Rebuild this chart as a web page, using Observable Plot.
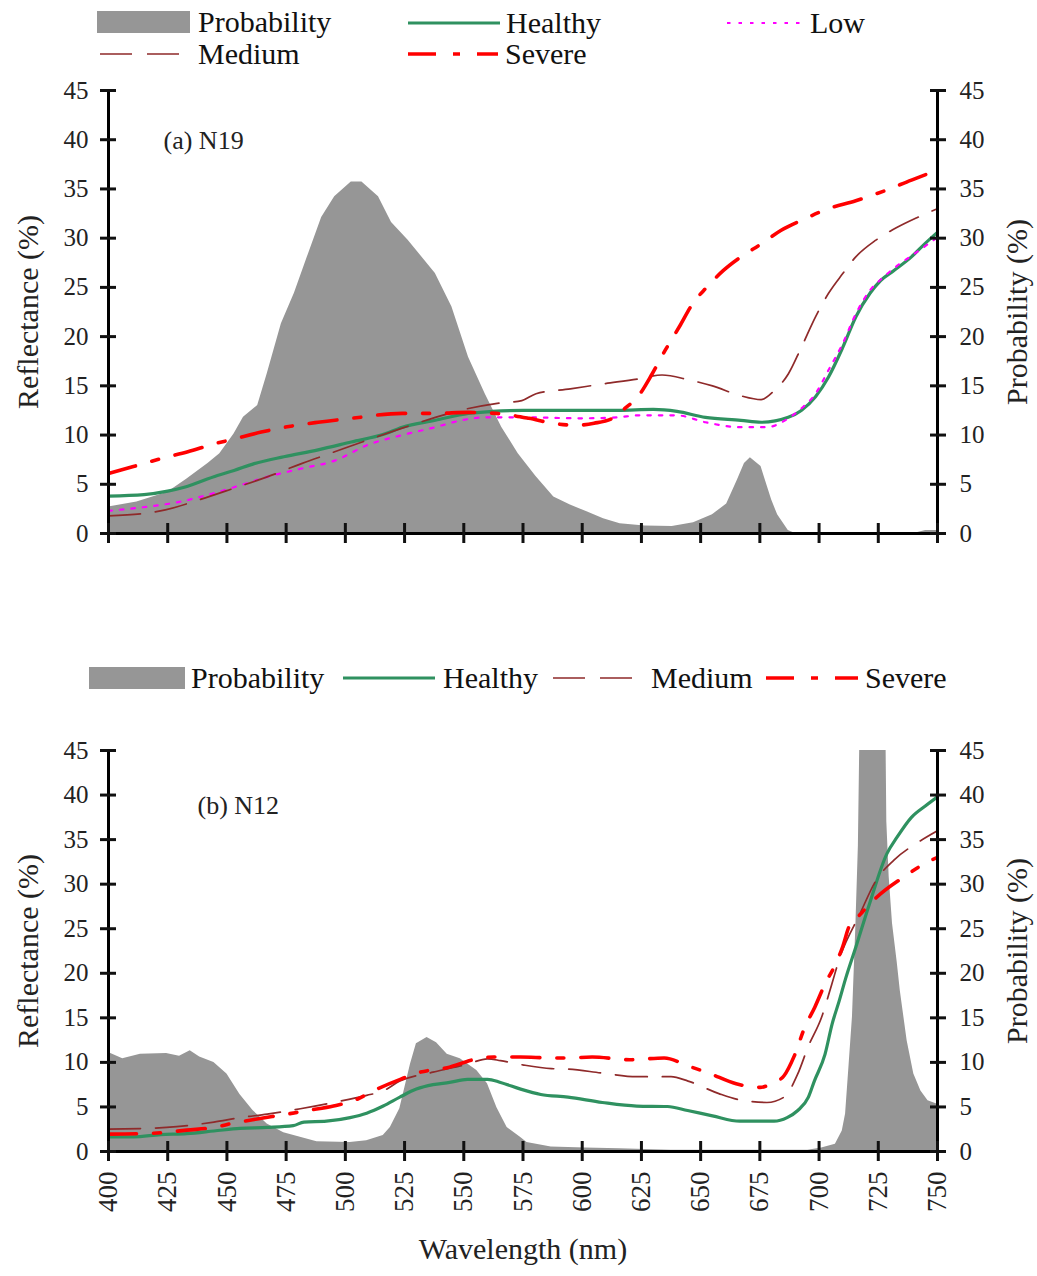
<!DOCTYPE html>
<html><head><meta charset="utf-8">
<script src="https://cdn.jsdelivr.net/npm/d3@7"></script>
<script src="https://cdn.jsdelivr.net/npm/@observablehq/plot@0.6"></script>
<style>
body{margin:0;background:#fff;font-family:"Liberation Serif",serif;}
#root{position:relative;width:1037px;height:1276px;overflow:hidden;background:#fff;}
.lt{position:absolute;font-size:30px;line-height:30px;color:#111;white-space:nowrap;}
.pane{position:absolute;left:0;}
</style></head><body><div id="root"></div>
<script>
// ---------- Series names ----------
const seriesNames = ["Probability", "Healthy", "Low", "Medium", "Severe"];
const panelLabels = ["(a) N19", "(b) N12"];
const yTicks = [0, 5, 10, 15, 20, 25, 30, 35, 40, 45];
const xTicks = [400, 425, 450, 475, 500, 525, 550, 575, 600, 625, 650, 675, 700, 725, 750];

// ---------- Panel (a) N19 ----------
const wlProbA = [400, 412, 425, 433, 442, 447, 453, 457, 463, 467, 473, 478.5, 484, 490, 495.5, 502.5, 507, 514, 519.5, 526.5, 538, 545, 552, 559, 566, 573, 580.5, 588, 595, 602, 609, 616, 626.5, 638, 647, 655, 661, 665.5, 668.5, 671, 675.5, 680, 682.5, 687, 690, 740, 745, 750];
const probA = [2.7, 3.2, 4.2, 5.5, 7.1, 8.1, 10.1, 11.8, 13.0, 16.2, 21.3, 24.4, 28.1, 32.1, 34.2, 35.7, 35.7, 34.2, 31.6, 29.8, 26.4, 23.0, 17.9, 14.2, 10.8, 8.1, 5.8, 3.7, 2.9, 2.2, 1.5, 1.0, 0.75, 0.7, 1.1, 1.9, 3.0, 5.4, 7.1, 7.7, 6.8, 3.4, 1.9, 0.3, 0, 0, 0.3, 0.3];

const wlHealthyA = [400, 415, 425, 432, 446, 453, 461.5, 474, 488.5, 502.5, 516.5, 524, 538, 552, 562, 575, 600, 615, 630, 640, 652, 667, 675.5, 687, 692.5, 698.5, 704, 710, 715.5, 721.5, 726, 731.5, 739, 744.5, 750];
const healthyA = [3.8, 3.95, 4.3, 4.7, 5.9, 6.4, 7.1, 7.8, 8.5, 9.3, 10.1, 10.8, 11.5, 12.2, 12.4, 12.5, 12.5, 12.5, 12.6, 12.4, 11.8, 11.5, 11.3, 11.8, 12.5, 13.9, 15.9, 18.9, 22.0, 24.4, 25.7, 26.7, 28.1, 29.4, 30.6];

const wlLowA = [400, 422, 427.5, 444.5, 453, 467, 481.5, 495.5, 509.5, 524, 538, 549, 559, 575, 600, 615, 624, 640, 652, 666.5, 678, 687, 692.5, 698.5, 704, 710, 715.5, 721.5, 727, 733, 739, 750];
const lowA = [2.3, 2.9, 3.1, 4.1, 4.7, 5.75, 6.6, 7.4, 9.0, 10.0, 10.8, 11.5, 11.8, 11.8, 11.7, 11.8, 12.0, 12.0, 11.3, 10.8, 10.8, 11.7, 12.7, 14.2, 16.6, 19.3, 22.3, 24.7, 26.0, 27.2, 28.2, 30.1];

const wlMediumA = [400, 414, 424, 438, 453, 467, 481.5, 495.5, 509.5, 524, 538, 552, 563.5, 574.5, 580.5, 595, 609, 623.5, 633.7, 645, 655, 666.8, 675.5, 681, 687, 692.5, 698.5, 704, 710, 715.5, 724, 733, 741.5, 750];
const mediumA = [1.8, 2.0, 2.4, 3.4, 4.6, 5.75, 7.1, 8.3, 9.5, 10.7, 11.8, 12.7, 13.2, 13.5, 14.2, 14.7, 15.2, 15.7, 16.1, 15.6, 15.0, 14.0, 13.6, 14.5, 16.2, 18.9, 22.0, 24.4, 26.4, 28.1, 29.8, 31.1, 32.1, 33.0];

const wlSevereA = [400, 410.5, 422, 433.5, 444.5, 453, 464.5, 474.5, 488.5, 502.5, 524, 538, 552, 563.5, 577.5, 587.5, 597.5, 605, 613.5, 618, 623.5, 629.5, 635, 641, 646.5, 652.5, 659.5, 667, 675.5, 684, 692.5, 704, 715.5, 727.5, 739, 750];
const severeA = [6.1, 6.8, 7.6, 8.3, 9.1, 9.6, 10.3, 10.8, 11.3, 11.7, 12.2, 12.2, 12.3, 12.2, 11.7, 11.2, 11.0, 11.2, 11.8, 12.7, 13.9, 16.2, 18.6, 21.0, 23.3, 25.0, 26.7, 28.1, 29.4, 30.8, 31.8, 33.0, 33.8, 34.8, 35.9, 36.9];

// ---------- Panel (b) N12 ----------
const wlProbB = [400, 406, 413.5, 424.5, 430, 434.5, 438.5, 444.5, 450, 455.5, 461, 467, 474, 481, 488, 502, 509, 516, 519, 523, 527.5, 530, 534.5, 538.5, 543, 548.5, 555.5, 560, 564, 568.3, 573.9, 576.7, 586.9, 601.3, 615.8, 637.5, 695.3, 701.1, 706.9, 709.8, 711.2, 712.7, 714.1, 715.5, 716.6, 717.3, 728.2, 728.6, 729.6, 731, 733, 734.3, 737.2, 740, 743, 746, 750];
const probB = [11.1, 10.4, 10.9, 11.0, 10.7, 11.3, 10.6, 10.0, 8.7, 6.4, 4.6, 3.1, 2.1, 1.6, 1.1, 1.0, 1.2, 1.8, 2.7, 4.8, 9.8, 12.1, 12.8, 12.2, 10.9, 10.4, 9.1, 7.6, 4.9, 2.7, 1.6, 1.0, 0.5, 0.4, 0.3, 0.15, 0.15, 0.4, 0.8, 2.3, 4.2, 9.8, 15.1, 25.0, 34.3, 48, 48, 37.0, 30.8, 25.6, 21.2, 18.0, 12.4, 8.7, 6.8, 5.7, 5.3];

const wlHealthyB = [400, 410.5, 422, 433, 444.5, 455.5, 467, 478, 482.5, 492, 502, 509, 516, 523, 530, 537, 544, 551.5, 560, 565.5, 574, 582.5, 594, 608.5, 623, 636, 644.5, 655, 666.5, 681, 686.5, 691, 695.5, 698, 702.5, 705.5, 708.5, 711.2, 715.6, 721.3, 728.6, 733, 739, 745, 750];
const healthyB = [1.65, 1.65, 1.9, 2.0, 2.3, 2.6, 2.7, 2.9, 3.3, 3.4, 3.8, 4.3, 5.1, 6.1, 7.0, 7.5, 7.75, 8.1, 8.1, 7.75, 7.0, 6.4, 6.1, 5.5, 5.1, 5.05, 4.6, 4.0, 3.4, 3.4, 3.8, 4.6, 6.1, 7.9, 10.9, 14.3, 16.9, 19.4, 23.0, 27.8, 33.4, 35.3, 37.5, 38.8, 39.8];

const wlMediumB = [400, 424.5, 444.5, 455.5, 467, 481, 495, 509, 516, 523, 537, 551.5, 560, 565.5, 575.3, 587, 594, 608.5, 623, 637.5, 644.7, 657.7, 666.4, 678, 685.2, 691, 695.3, 701.1, 705.4, 708.3, 717.3, 724, 731.6, 741.8, 750];
const mediumB = [2.5, 2.7, 3.3, 3.8, 4.2, 4.8, 5.5, 6.3, 6.8, 7.9, 8.9, 9.8, 10.4, 10.2, 9.7, 9.3, 9.25, 8.8, 8.4, 8.4, 7.9, 6.5, 5.8, 5.5, 6.1, 8.7, 11.7, 15.1, 18.8, 21.4, 26.7, 30.4, 32.7, 34.7, 36.0];

const wlSevereB = [400, 413.5, 422, 433, 444.5, 453, 464, 475.5, 484, 495, 503.5, 513.3, 523.2, 531.6, 543, 554, 562.6, 573.9, 587, 594, 604.2, 620, 634.6, 644.7, 653.4, 665, 675.1, 680.8, 685.2, 689.5, 693.9, 698.2, 702.5, 706.9, 710, 712.6, 717, 724.2, 735.7, 745.9, 750];
const severeB = [1.95, 2.0, 2.1, 2.4, 2.7, 3.2, 3.7, 4.2, 4.6, 5.1, 5.7, 7.0, 8.1, 8.9, 9.4, 10.3, 10.6, 10.6, 10.5, 10.5, 10.6, 10.3, 10.5, 9.6, 8.8, 7.6, 7.2, 7.75, 8.5, 10.7, 13.9, 16.2, 18.8, 21.0, 23.0, 25.2, 26.5, 28.5, 30.8, 32.5, 33.0];

// ---------- Styles ----------
const styles = {
  Probability: {fill: "#969696"},
  Healthy: {stroke: "#2f9160", strokeWidth: 3.2, dash: null},
  Low: {stroke: "#ff00ff", strokeWidth: 2.2, dash: "3.5,8"},
  Medium: {stroke: "#8f2a2a", strokeWidth: 1.7, dash: "32,15"},
  Severe: {stroke: "#ff0000", strokeWidth: 3.6, dash: "28,17,7,17"}
};

const tbl = (wl, v) => wl.map((w, i) => ({wl: w, v: v[i]}));

function panel({prob, lines, label, labelDx, labelDy, height, marginTop, marginBottom, xLabels}) {
  const marks = [
    Plot.areaY(prob, {x: "wl", y: "v", fill: styles.Probability.fill, curve: "linear", clip: true}),
    ...lines.map(([name, data]) => Plot.line(data, {
      x: "wl", y: "v", stroke: styles[name].stroke, strokeWidth: styles[name].strokeWidth,
      strokeDasharray: styles[name].dash, curve: "monotone-x", clip: true
    })),
    Plot.ruleX([400, 750], {stroke: "#000", strokeWidth: 3}),
    Plot.ruleY([0], {stroke: "#000", strokeWidth: 3}),
    // crossing tick marks
    Plot.axisY({ticks: yTicks, anchor: "left", tickSize: 16, dx: 8, fill: "none", strokeWidth: 3, label: null}),
    Plot.axisY({ticks: yTicks, anchor: "right", tickSize: 16, dx: -8, fill: "none", strokeWidth: 3, label: null}),
    Plot.axisX({ticks: xTicks, anchor: "bottom", tickSize: 20, dy: -10, fill: "none", strokeWidth: 3, label: null}),
    // tick labels
    Plot.axisY({ticks: yTicks, anchor: "left", tickSize: 0, tickPadding: 20, fontSize: 25, fill: "#222", label: null}),
    Plot.axisY({ticks: yTicks, anchor: "right", tickSize: 0, tickPadding: 22, fontSize: 25, fill: "#222", label: null}),
    Plot.text(["Reflectance (%)"], {frameAnchor: "left", dx: -80, rotate: -90, textAnchor: "middle", fontSize: 30, fill: "#222"}),
    Plot.text(["Probability (%)"], {frameAnchor: "right", dx: 80, rotate: -90, textAnchor: "middle", fontSize: 30, fill: "#222"}),
    Plot.text([label], {frameAnchor: "top-left", dx: labelDx, dy: labelDy, textAnchor: "start", fontSize: 26, fill: "#222"})
  ];
  if (xLabels) {
    marks.push(Plot.axisX({ticks: xTicks, anchor: "bottom", tickSize: 0, tickPadding: 20, tickRotate: -90, fontSize: 27, fill: "#222", label: null}));
    marks.push(Plot.text(["Wavelength (nm)"], {frameAnchor: "bottom", dy: 107, fontSize: 30, fill: "#222"}));
  }
  return Plot.plot({
    width: 1037, height, marginLeft: 108, marginRight: 100, marginTop, marginBottom,
    x: {domain: [400, 750]},
    y: {domain: [0, 45]},
    style: {fontFamily: "Liberation Serif, serif", background: "white", color: "#111", overflow: "visible"},
    marks
  });
}

const root = document.getElementById("root");

const pA = panel({
  prob: tbl(wlProbA, probA),
  lines: [["Healthy", tbl(wlHealthyA, healthyA)], ["Low", tbl(wlLowA, lowA)], ["Medium", tbl(wlMediumA, mediumA)], ["Severe", tbl(wlSevereA, severeA)]],
  label: panelLabels[0], labelDx: 55, labelDy: 40,
  height: 495, marginTop: 20, marginBottom: 32, xLabels: false
});
const dA = document.createElement("div"); dA.className = "pane"; dA.style.top = "70px"; dA.appendChild(pA); root.appendChild(dA);

const pB = panel({
  prob: tbl(wlProbB, probB),
  lines: [["Healthy", tbl(wlHealthyB, healthyB)], ["Medium", tbl(wlMediumB, mediumB)], ["Severe", tbl(wlSevereB, severeB)]],
  label: panelLabels[1], labelDx: 89, labelDy: 45,
  height: 546, marginTop: 20, marginBottom: 125, xLabels: true
});
const dB = document.createElement("div"); dB.className = "pane"; dB.style.top = "730px"; dB.appendChild(pB); root.appendChild(dB);

// ---------- Legends (HTML) ----------
function legendItem(name, x0, x1, tx, cy) {
  const st = styles[name];
  const ns = "http://www.w3.org/2000/svg";
  const svg = document.createElementNS(ns, "svg");
  svg.setAttribute("width", x1 - x0);
  svg.setAttribute("height", 26);
  svg.style.position = "absolute";
  svg.style.left = x0 + "px";
  svg.style.top = (cy - 13) + "px";
  if (name === "Probability") {
    const r = document.createElementNS(ns, "rect");
    r.setAttribute("x", 0); r.setAttribute("y", 2); r.setAttribute("width", x1 - x0); r.setAttribute("height", 22);
    r.setAttribute("fill", st.fill);
    svg.appendChild(r);
  } else {
    const l = document.createElementNS(ns, "line");
    l.setAttribute("x1", 0); l.setAttribute("x2", x1 - x0); l.setAttribute("y1", 13); l.setAttribute("y2", 13);
    l.setAttribute("stroke", st.stroke); l.setAttribute("stroke-width", st.strokeWidth);
    if (st.dash) l.setAttribute("stroke-dasharray", st.dash);
    svg.appendChild(l);
  }
  root.appendChild(svg);
  const t = document.createElement("div");
  t.className = "lt"; t.textContent = name;
  t.style.left = tx + "px"; t.style.top = (cy - 15) + "px";
  root.appendChild(t);
}
// legend (a)
legendItem(seriesNames[0], 97, 190, 198, 22);
legendItem(seriesNames[1], 408, 500, 506, 23);
legendItem(seriesNames[2], 727, 805, 810, 23);
legendItem(seriesNames[3], 100, 183, 198, 54);
legendItem(seriesNames[4], 408, 498, 505, 54);
// legend (b)
legendItem(seriesNames[0], 89, 185, 191, 678);
legendItem(seriesNames[1], 343, 435, 443, 678);
legendItem(seriesNames[3], 553, 640, 651, 678);
legendItem(seriesNames[4], 766, 858, 865, 678);
</script></body></html>
